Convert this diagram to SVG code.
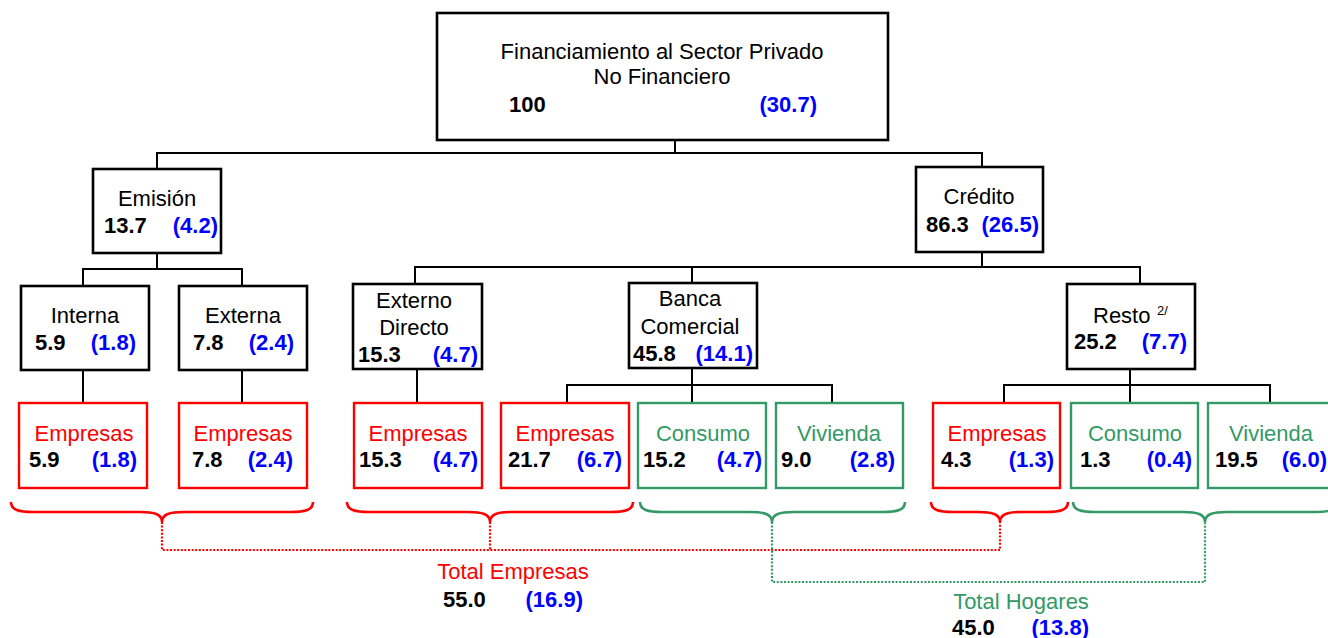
<svg xmlns="http://www.w3.org/2000/svg" width="1328" height="638" viewBox="0 0 1328 638">
<style>
text{font-family:"Liberation Sans",Arial,sans-serif;font-size:22px}
.c{text-anchor:middle}
.e{text-anchor:end}
.n{font-weight:bold;fill:#000}
.b{font-weight:bold;fill:#0000FF}
.r{fill:#FF0000}
.g{fill:#339966}
.bx{fill:#fff;stroke:#000;stroke-width:2.6}
.rb{fill:#fff;stroke:#FF0000;stroke-width:2.4}
.gb{fill:#fff;stroke:#339966;stroke-width:2.4}
.ln{fill:none;stroke:#000;stroke-width:2}
.br{fill:none;stroke:#FF0000;stroke-width:2.6}
.bg{fill:none;stroke:#339966;stroke-width:2.6}
.dr{fill:none;stroke:#FF0000;stroke-width:2.2;stroke-dasharray:2 1.6}
.dg{fill:none;stroke:#339966;stroke-width:2.2;stroke-dasharray:2 1.6}
</style>
<g id="connectors">
<path class="ln" d="M675,140V153M157,169V153H982V167"/>
<path class="ln" d="M157,253V269M83,286V269H242V286"/>
<path class="ln" d="M982,252V267M415,284V267H1140V284M692,267V283"/>
<path class="ln" d="M83,370V403M242,370V403M417,369V403"/>
<path class="ln" d="M692,368V385M567,403V385H832V403M692,385V403"/>
<path class="ln" d="M1130,369V385M1004,403V385H1270V403M1130,385V403"/>
</g>
<g id="braces">
<path class="br" d="M11,502C11,510 19,512 33,512L140,512C154,512 162,514 162,522C162,514 170,512 184,512L291,512C305,512 313,510 313,502"/>
<path class="br" d="M347,502C347,510 355,512 369,512L468,512C482,512 490,514 490,522C490,514 498,512 512,512L611,512C625,512 633,510 633,502"/>
<path class="bg" d="M640,502C640,510 648,512 662,512L750,512C764,512 772,514 772,522C772,514 780,512 794,512L883,512C897,512 905,510 905,502"/>
<path class="br" d="M931,502C931,510 939,512 953,512L978,512C992,512 1000,514 1000,522C1000,514 1008,512 1022,512L1046,512C1060,512 1068,510 1068,502"/>
<path class="bg" d="M1073,502C1073,510 1081,512 1095,512L1183,512C1197,512 1205,514 1205,522C1205,514 1213,512 1227,512L1315,512C1329,512 1337,510 1337,502"/>
<path class="dr" d="M162,522V550H1000V522M490,522V550"/>
<path class="dg" d="M772,522V582H1205V522"/>
</g>
<g id="n-root">
<rect class="bx" x="437" y="13" width="451" height="127"/>
<text class="c" x="662" y="59">Financiamiento al Sector Privado</text>
<text class="c" x="662" y="84">No Financiero</text>
<text class="n" x="509" y="112">100</text>
<text class="b e" x="817" y="112">(30.7)</text>
</g>
<g id="n-emision">
<rect class="bx" x="93" y="169" width="128" height="84"/>
<text class="c" x="157" y="206">Emisión</text>
<text class="n" x="104" y="233">13.7</text>
<text class="b e" x="218" y="233">(4.2)</text>
</g>
<g id="n-credito">
<rect class="bx" x="916" y="167" width="127" height="85"/>
<text class="c" x="979" y="204">Crédito</text>
<text class="n" x="926" y="232">86.3</text>
<text class="b e" x="1039" y="232">(26.5)</text>
</g>
<g id="n-interna">
<rect class="bx" x="21" y="286" width="128" height="84"/>
<text class="c" x="85" y="323">Interna</text>
<text class="n" x="35" y="350">5.9</text>
<text class="b e" x="136" y="350">(1.8)</text>
</g>
<g id="n-externa">
<rect class="bx" x="179" y="286" width="128" height="84"/>
<text class="c" x="243" y="323">Externa</text>
<text class="n" x="193" y="350">7.8</text>
<text class="b e" x="294" y="350">(2.4)</text>
</g>
<g id="n-externo">
<rect class="bx" x="353" y="284" width="129" height="85"/>
<text class="c" x="414" y="308">Externo</text>
<text class="c" x="414" y="335">Directo</text>
<text class="n" x="358" y="362">15.3</text>
<text class="b e" x="478" y="362">(4.7)</text>
</g>
<g id="n-banca">
<rect class="bx" x="629" y="283" width="128" height="85"/>
<text class="c" x="690" y="306">Banca</text>
<text class="c" x="690" y="334">Comercial</text>
<text class="n" x="633" y="361">45.8</text>
<text class="b e" x="753" y="361">(14.1)</text>
</g>
<g id="n-resto">
<rect class="bx" x="1067" y="284" width="128" height="85"/>
<text x="1093" y="323">Resto</text>
<text x="1157" y="315" style="font-size:13px">2/</text>
<text class="n" x="1074" y="349">25.2</text>
<text class="b e" x="1187" y="349">(7.7)</text>
</g>
<g id="n-emp1">
<rect class="rb" x="19" y="403" width="128" height="85"/>
<text class="c r" x="84" y="441">Empresas</text>
<text class="n" x="29" y="467">5.9</text>
<text class="b e" x="137" y="467">(1.8)</text>
</g>
<g id="n-emp2">
<rect class="rb" x="179" y="403" width="128" height="85"/>
<text class="c r" x="243" y="441">Empresas</text>
<text class="n" x="192" y="467">7.8</text>
<text class="b e" x="293" y="467">(2.4)</text>
</g>
<g id="n-emp3">
<rect class="rb" x="354" y="403" width="128" height="85"/>
<text class="c r" x="418" y="441">Empresas</text>
<text class="n" x="359" y="467">15.3</text>
<text class="b e" x="478" y="467">(4.7)</text>
</g>
<g id="n-emp4">
<rect class="rb" x="501" y="403" width="128" height="85"/>
<text class="c r" x="565" y="441">Empresas</text>
<text class="n" x="508" y="467">21.7</text>
<text class="b e" x="622" y="467">(6.7)</text>
</g>
<g id="n-consumo1">
<rect class="gb" x="638" y="403" width="128" height="85"/>
<text class="c g" x="703" y="441">Consumo</text>
<text class="n" x="643" y="467">15.2</text>
<text class="b e" x="762" y="467">(4.7)</text>
</g>
<g id="n-vivienda1">
<rect class="gb" x="776" y="403" width="127" height="85"/>
<text class="c g" x="839" y="441">Vivienda</text>
<text class="n" x="781" y="467">9.0</text>
<text class="b e" x="895" y="467">(2.8)</text>
</g>
<g id="n-emp5">
<rect class="rb" x="933" y="403" width="127" height="85"/>
<text class="c r" x="997" y="441">Empresas</text>
<text class="n" x="941" y="467">4.3</text>
<text class="b e" x="1054" y="467">(1.3)</text>
</g>
<g id="n-consumo2">
<rect class="gb" x="1071" y="403" width="127" height="85"/>
<text class="c g" x="1135" y="441">Consumo</text>
<text class="n" x="1080" y="467">1.3</text>
<text class="b e" x="1192" y="467">(0.4)</text>
</g>
<g id="n-vivienda2">
<rect class="gb" x="1208" y="403" width="128" height="85"/>
<text class="c g" x="1271" y="441">Vivienda</text>
<text class="n" x="1215" y="467">19.5</text>
<text class="b e" x="1327" y="467">(6.0)</text>
</g>
<g id="n-total-empresas">
<text class="c r" x="513" y="579">Total Empresas</text>
<text class="n" x="443" y="607">55.0</text>
<text class="b e" x="583" y="607">(16.9)</text>
</g>
<g id="n-total-hogares">
<text class="c g" x="1021" y="609">Total Hogares</text>
<text class="n" x="952" y="635">45.0</text>
<text class="b e" x="1089" y="635">(13.8)</text>
</g>
</svg>
